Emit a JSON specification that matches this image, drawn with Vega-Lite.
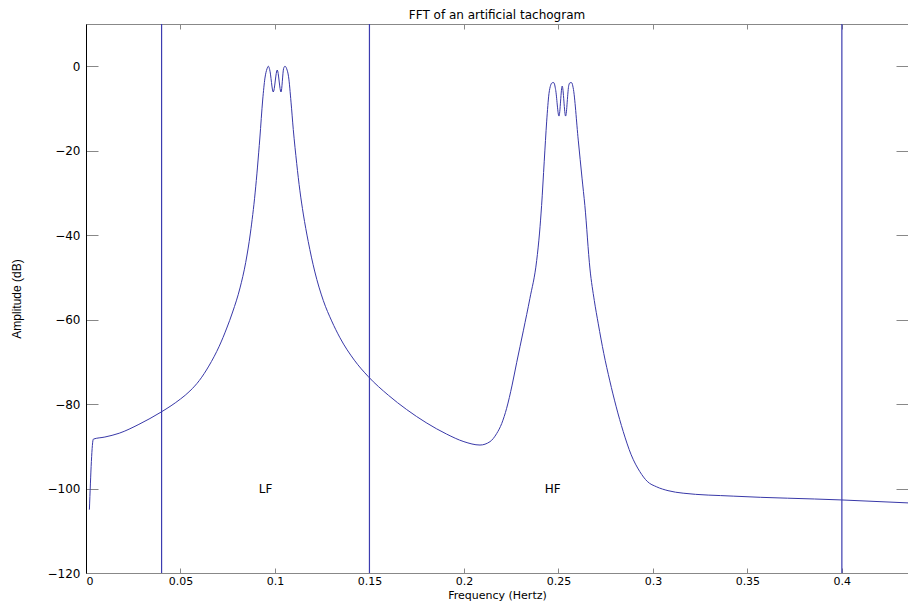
{
  "$schema": "https://vega.github.io/schema/vega-lite/v6.json",
  "width": 822,
  "height": 549,
  "autosize": {"type": "none"},
  "padding": {"left": 86, "top": 24, "right": 0, "bottom": 32},
  "background": "white",
  "title": {"text": "FFT of an artificial tachogram", "font": "DejaVu Sans", "fontSize": 12, "fontWeight": "normal", "color": "black", "offset": 1, "anchor": "middle"},
  "config": {
    "view": {"stroke": "#888888", "strokeWidth": 1},
    "axis": {"labelFont": "DejaVu Sans", "labelFontSize": 12, "labelColor": "black", "titleFont": "DejaVu Sans", "titleFontSize": 12, "titleFontWeight": "normal", "titleColor": "black", "grid": false, "tickColor": "#888888", "domainColor": "#888888"}
  },
  "datasets": {
    "spectrum": [
      {"f": 0.0018, "db": -105.0}, {"f": 0.0039, "db": -88.3}, {"f": 0.010, "db": -87.8}, {"f": 0.0176, "db": -86.9},
      {"f": 0.028, "db": -84.8}, {"f": 0.0397, "db": -81.9}, {"f": 0.045, "db": -80.4}, {"f": 0.05, "db": -78.8},
      {"f": 0.055, "db": -76.9}, {"f": 0.06, "db": -74.4}, {"f": 0.065, "db": -71.0}, {"f": 0.0705, "db": -66.3},
      {"f": 0.0745, "db": -62.0}, {"f": 0.0776, "db": -58.2}, {"f": 0.0815, "db": -52.5}, {"f": 0.0845, "db": -46.5},
      {"f": 0.087, "db": -39.5}, {"f": 0.0895, "db": -30.0},
      {"f": 0.092, "db": -17.0}, {"f": 0.0935, "db": -8.0}, {"f": 0.0947, "db": -2.8}, {"f": 0.0958, "db": -0.6},
      {"f": 0.0965, "db": 0.0}, {"f": 0.0972, "db": -0.8}, {"f": 0.0991, "db": -6.1}, {"f": 0.1012, "db": -0.9},
      {"f": 0.1032, "db": -6.1}, {"f": 0.1046, "db": -0.5}, {"f": 0.1053, "db": 0.0}, {"f": 0.1062, "db": -0.6},
      {"f": 0.1072, "db": -2.5}, {"f": 0.1085, "db": -8.5}, {"f": 0.1097, "db": -15.0}, {"f": 0.1115, "db": -23.0},
      {"f": 0.1132, "db": -29.5}, {"f": 0.115, "db": -35.0}, {"f": 0.1176, "db": -41.5}, {"f": 0.121, "db": -48.5},
      {"f": 0.1256, "db": -55.5}, {"f": 0.13, "db": -60.3}, {"f": 0.1344, "db": -64.3}, {"f": 0.142, "db": -69.6},
      {"f": 0.1494, "db": -73.5}, {"f": 0.16, "db": -77.9}, {"f": 0.1697, "db": -81.3}, {"f": 0.18, "db": -84.4},
      {"f": 0.1908, "db": -87.1}, {"f": 0.2, "db": -88.9}, {"f": 0.2085, "db": -89.7}, {"f": 0.2138, "db": -88.9},
      {"f": 0.2173, "db": -87.0}, {"f": 0.22, "db": -84.6}, {"f": 0.2226, "db": -81.0}, {"f": 0.2255, "db": -75.5},
      {"f": 0.2279, "db": -70.2}, {"f": 0.2315, "db": -62.5}, {"f": 0.2349, "db": -55.0}, {"f": 0.2385, "db": -46.0},
      {"f": 0.24, "db": -39.5}, {"f": 0.2411, "db": -33.0}, {"f": 0.2425, "db": -22.5}, {"f": 0.2438, "db": -13.0},
      {"f": 0.245, "db": -6.5}, {"f": 0.2459, "db": -4.5}, {"f": 0.2468, "db": -3.9}, {"f": 0.2476, "db": -3.9},
      {"f": 0.2485, "db": -5.5}, {"f": 0.2503, "db": -11.8}, {"f": 0.252, "db": -4.7}, {"f": 0.2538, "db": -11.8},
      {"f": 0.2555, "db": -4.5}, {"f": 0.2562, "db": -3.9}, {"f": 0.257, "db": -3.9}, {"f": 0.2578, "db": -5.1},
      {"f": 0.2605, "db": -17.5}, {"f": 0.2625, "db": -26.5}, {"f": 0.264, "db": -33.0}, {"f": 0.2667, "db": -48.0},
      {"f": 0.269, "db": -55.5}, {"f": 0.2711, "db": -61.0}, {"f": 0.274, "db": -68.0}, {"f": 0.2772, "db": -74.5},
      {"f": 0.2805, "db": -80.5}, {"f": 0.2843, "db": -86.5}, {"f": 0.2885, "db": -92.0}, {"f": 0.2931, "db": -96.0},
      {"f": 0.297, "db": -98.3}, {"f": 0.302, "db": -99.6}, {"f": 0.308, "db": -100.5}, {"f": 0.316, "db": -101.1},
      {"f": 0.3425, "db": -101.8}, {"f": 0.3998, "db": -102.7}, {"f": 0.435, "db": -103.4}
    ],
    "bands": [{"f": 0.04}, {"f": 0.15}, {"f": 0.4}],
    "labels": [{"f": 0.095, "db": -100, "label": "LF"}, {"f": 0.247, "db": -100, "label": "HF"}]
  },
  "resolve": {"axis": {"x": "independent", "y": "independent"}},
  "layer": [
    {
      "data": {"name": "bands"},
      "mark": {"type": "rule", "color": "#3c3cb0", "strokeWidth": 1.2},
      "encoding": {
        "x": {"field": "f", "type": "quantitative", "scale": {"domain": [0, 0.435], "nice": false, "zero": false},
          "axis": {"orient": "top", "title": null, "labels": false, "values": [0, 0.05, 0.1, 0.15, 0.2, 0.25, 0.3, 0.35, 0.4], "tickSize": -5}}
      }
    },
    {
      "data": {"name": "spectrum"},
      "mark": {"type": "line", "color": "#3838a8", "strokeWidth": 1, "interpolate": "monotone"},
      "encoding": {
        "x": {"field": "f", "type": "quantitative", "scale": {"domain": [0, 0.435], "nice": false, "zero": false},
          "axis": {"orient": "bottom", "title": "Frequency (Hertz)", "titleFontSize": 11, "values": [0, 0.05, 0.1, 0.15, 0.2, 0.25, 0.3, 0.35, 0.4], "format": ".2~f", "labelFontSize": 11, "tickSize": -5, "labelPadding": 7, "titlePadding": 3, "domainColor": "#888888"}},
        "y": {"field": "db", "type": "quantitative", "scale": {"domain": [-120, 10], "nice": false, "zero": false},
          "axis": {"orient": "left", "title": "Amplitude (dB)", "titleFont": "Liberation Sans", "titleFontSize": 12, "values": [-120, -100, -80, -60, -40, -20, 0], "tickSize": -12, "labelPadding": 18, "titlePadding": 24, "domainColor": "black"}}
      }
    },
    {
      "data": {"name": "labels"},
      "mark": {"type": "text", "font": "DejaVu Sans", "fontSize": 12, "color": "black"},
      "encoding": {
        "x": {"field": "f", "type": "quantitative", "scale": {"domain": [0, 0.435], "nice": false, "zero": false}, "axis": null},
        "y": {"field": "db", "type": "quantitative", "scale": {"domain": [-120, 10], "nice": false, "zero": false},
          "axis": {"orient": "right", "title": null, "labels": false, "values": [-120, -100, -80, -60, -40, -20, 0], "tickSize": -12}},
        "text": {"field": "label", "type": "nominal"}
      }
    }
  ]
}
